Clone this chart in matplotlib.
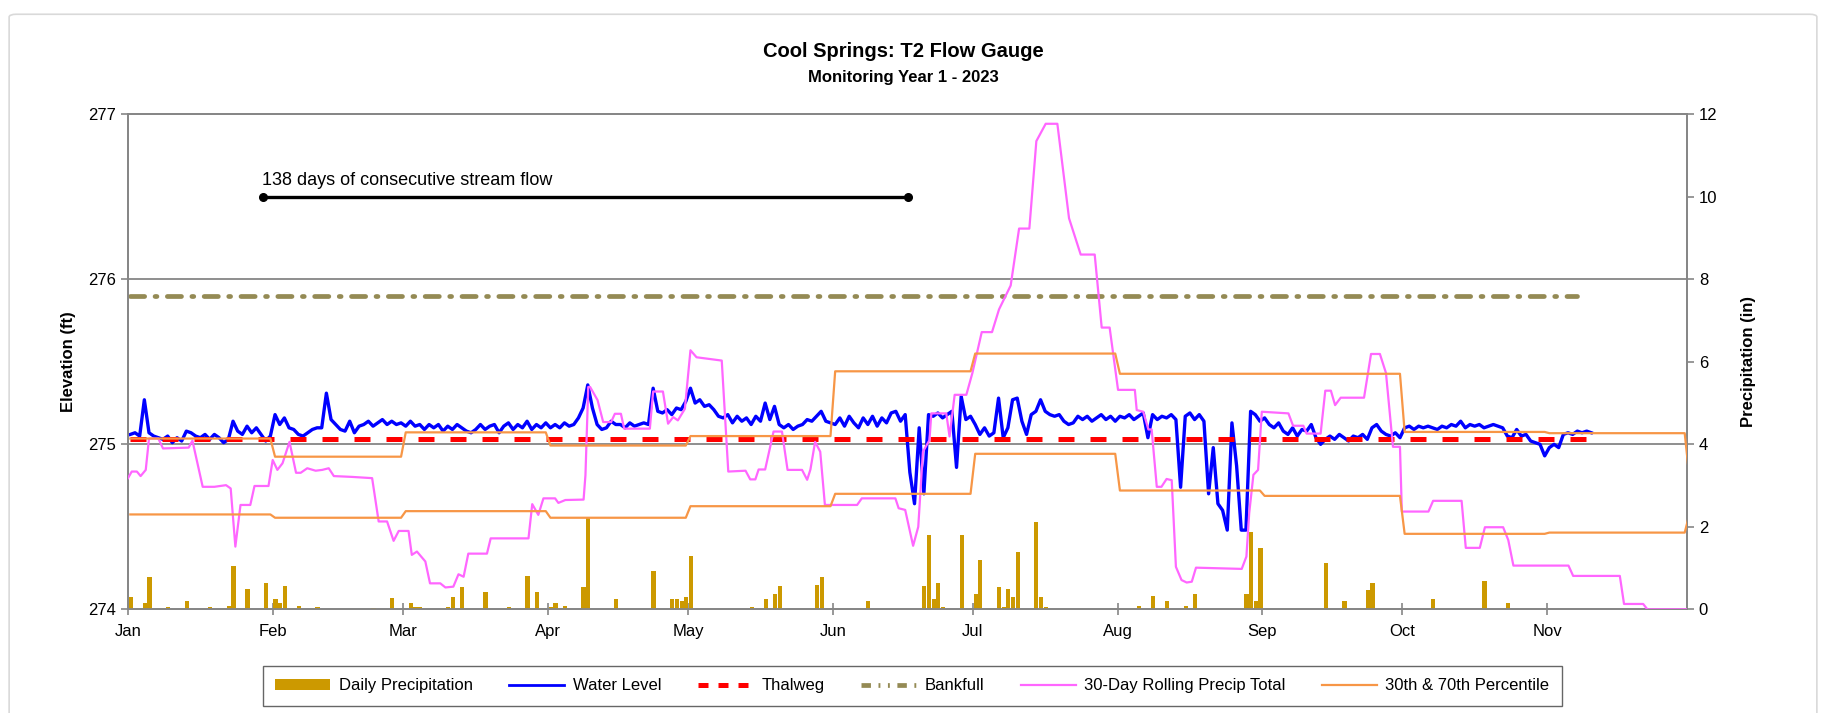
import matplotlib
matplotlib.use("Agg")
import matplotlib.pyplot as plt
import numpy as np
from matplotlib.lines import Line2D
from matplotlib.patches import Patch, FancyBboxPatch

plt.rcParams["font.family"] = ["Liberation Sans", "DejaVu Sans"]

# ---- data -------------------------------------------------------------
month_names = ["Jan", "Feb", "Mar", "Apr", "May", "Jun", "Jul", "Aug", "Sep", "Oct", "Nov"]
month_len = [31, 28, 31, 30, 31, 30, 31, 31, 30, 31, 30, 31]

# monthly 30th / 70th percentile of 30-day precip (in), Jan..Dec
pct70 = [4.14, 3.70, 4.29, 3.97, 4.20, 5.77, 6.20, 5.71, 5.71, 4.30, 4.27, 3.20]
pct30 = [2.30, 2.22, 2.38, 2.22, 2.50, 2.80, 3.77, 2.88, 2.75, 1.83, 1.86, 2.30]

# daily precipitation: day of year (0 = Jan 1) and inches
rain_day = [0, 3, 4, 8, 12, 13, 17, 21, 22, 25, 29, 31, 32, 33, 36, 40, 51, 52, 55, 56,
            60, 61, 62, 68, 69, 71, 76, 81, 85, 87, 90, 91, 93, 97, 98, 104, 106, 112,
            116, 117, 118, 119, 120, 129, 133, 136, 138, 139, 140, 147, 148, 149, 158,
            162, 163, 165, 170, 171, 172, 173, 174, 178, 181, 182, 186, 187, 188, 189,
            190, 194, 195, 196, 200, 203, 204, 209, 212, 216, 219, 222, 226, 227, 228,
            239, 240, 241, 242, 256, 260, 265, 266, 279, 280, 290, 295]
rain_in = [0.31, 0.15, 0.79, 0.06, 0.19, 0.02, 0.06, 0.07, 1.06, 0.50, 0.63, 0.24, 0.15,
           0.57, 0.09, 0.06, 0.02, 0.04, 0.02, 0.27, 0.15, 0.06, 0.06, 0.06, 0.31, 0.55,
           0.43, 0.05, 0.82, 0.43, 0.06, 0.15, 0.07, 0.55, 2.21, 0.24, 0.02, 0.94, 0.25,
           0.26, 0.19, 0.30, 1.30, 0.02, 0.05, 0.26, 0.38, 0.56, 0.02, 0.58, 0.78, 0.02,
           0.21, 0.02, 0.02, 0.02, 0.56, 1.79, 0.26, 0.65, 0.05, 1.81, 0.37, 1.19, 0.53,
           0.05, 0.49, 0.31, 1.40, 2.12, 0.31, 0.05, 0.02, 0.02, 0.02, 0.02, 0.02, 0.07,
           0.33, 0.19, 0.09, 0.02, 0.37, 0.37, 1.88, 0.19, 1.49, 1.13, 0.19, 0.47, 0.65,
           0.25, 0.02, 0.69, 0.16]

# 30-day rolling precip total: breakpoints (day of year, inches)
roll_day = [0.0, 0.8, 1.9, 2.7, 3.8, 4.5, 6.5, 7.5, 13.0, 13.8, 16.0, 18.5, 21.0, 22.0,
            23.0, 24.1, 26.2, 27.1, 30.1, 31.0, 32.0, 33.1, 34.6, 36.0, 37.0, 38.4, 40.2,
            41.6, 43.0, 44.1, 48.0, 52.3, 53.7, 55.5, 56.9, 58.0, 60.1, 60.8, 61.9, 63.7,
            64.7, 66.9, 68.0, 69.7, 70.8, 71.9, 72.9, 76.9, 77.7, 85.8, 86.6, 87.9, 89.0,
            91.5, 92.2, 93.7, 97.6, 98.0, 98.6, 99.0, 100.6, 101.8, 103.5, 104.3, 105.6,
            106.3, 111.8, 112.5, 114.6, 115.7, 116.8, 117.8, 119.3, 120.5, 121.8, 127.2,
            128.6, 132.3, 133.3, 134.4, 135.1, 136.5, 138.3, 140.1, 141.3, 144.4, 145.5,
            146.2, 147.2, 148.3, 149.3, 156.2, 157.2, 164.4, 165.1, 166.5, 168.2, 169.3,
            170.3, 171.7, 172.1, 175.3, 176.0, 177.1, 179.6, 180.9, 182.9, 185.1, 186.6,
            189.1, 190.9, 193.1, 194.6, 196.6, 199.1, 201.6, 204.1, 207.1, 208.6, 210.3,
            212.1, 215.7, 216.1, 217.5, 218.6, 219.3, 220.4, 221.4, 222.5, 223.6, 224.5,
            225.7, 226.8, 227.9, 228.8, 238.6, 239.6, 240.2, 241.1, 242.1, 242.9, 248.6,
            249.6, 251.8, 252.5, 255.5, 256.5, 257.7, 258.6, 259.8, 264.8, 266.3, 268.2,
            269.5, 271.0, 272.5, 272.9, 278.6, 279.6, 285.7, 286.6, 289.6, 290.7, 294.6,
            295.7, 296.8, 308.6, 309.6, 319.6, 320.5, 324.6, 325.5, 334.3]
roll_in = [3.18, 3.34, 3.34, 3.23, 3.38, 4.14, 4.14, 3.90, 3.92, 4.09, 2.97, 2.97, 3.01,
           2.93, 1.52, 2.53, 2.53, 2.99, 2.99, 3.62, 3.38, 3.54, 4.06, 3.31, 3.31, 3.42,
           3.36, 3.38, 3.42, 3.23, 3.21, 3.18, 2.13, 2.13, 1.66, 1.90, 1.90, 1.32, 1.40,
           1.16, 0.63, 0.63, 0.53, 0.55, 0.85, 0.79, 1.35, 1.35, 1.72, 1.72, 2.55, 2.29,
           2.69, 2.69, 2.58, 2.65, 2.66, 3.25, 5.39, 5.39, 5.07, 4.54, 4.54, 4.74, 4.74,
           4.38, 4.38, 5.28, 5.28, 4.50, 4.66, 4.58, 4.86, 6.28, 6.11, 6.03, 3.34, 3.36,
           3.15, 3.15, 3.39, 3.39, 4.31, 4.31, 3.38, 3.38, 3.14, 3.39, 4.06, 3.82, 2.53,
           2.53, 2.69, 2.69, 2.45, 2.41, 1.54, 2.00, 3.82, 4.10, 4.75, 4.75, 4.19, 5.20,
           5.20, 5.73, 6.72, 6.72, 7.27, 7.85, 9.23, 9.23, 11.35, 11.77, 11.77, 9.48,
           8.60, 8.60, 6.83, 6.83, 5.32, 5.32, 4.83, 4.79, 4.36, 4.36, 2.97, 2.97, 3.16,
           3.13, 1.03, 0.71, 0.65, 0.67, 1.01, 0.98, 1.28, 2.33, 3.26, 3.38, 4.79, 4.75,
           4.45, 4.45, 4.26, 4.26, 5.30, 5.30, 4.95, 5.13, 5.13, 6.19, 6.19, 5.73, 3.94,
           3.94, 2.37, 2.37, 2.63, 2.63, 1.49, 1.49, 1.99, 1.99, 1.68, 1.06, 1.06, 0.81,
           0.81, 0.13, 0.13, 0.00, 0.00]

# water level (ft), one reading per day from Jan 1
water_level = [
    275.06, 275.07, 275.05, 275.27, 275.07, 275.05, 275.04, 275.03, 275.05, 275.01,
    275.04, 275.02, 275.08, 275.07, 275.05, 275.04, 275.06, 275.03, 275.06, 275.04,
    275.01, 275.03, 275.14, 275.08, 275.06, 275.11, 275.07, 275.10, 275.06, 275.02,
    275.05, 275.18, 275.12, 275.16, 275.10, 275.09, 275.06, 275.05, 275.07, 275.09,
    275.10, 275.10, 275.31, 275.15, 275.12, 275.09, 275.08, 275.14, 275.07, 275.11,
    275.12, 275.14, 275.11, 275.13, 275.15, 275.12, 275.14, 275.12, 275.13, 275.11,
    275.14, 275.11, 275.12, 275.09, 275.12, 275.10, 275.12, 275.08, 275.11, 275.09,
    275.12, 275.10, 275.08, 275.07, 275.09, 275.12, 275.09, 275.11, 275.12, 275.07,
    275.11, 275.13, 275.09, 275.12, 275.10, 275.14, 275.09, 275.12, 275.10, 275.13,
    275.10, 275.12, 275.10, 275.13, 275.11, 275.12, 275.16, 275.22, 275.36, 275.22,
    275.12, 275.09, 275.10, 275.14, 275.12, 275.12, 275.10, 275.13, 275.11, 275.12,
    275.13, 275.12, 275.34, 275.20, 275.19, 275.21, 275.18, 275.22, 275.21, 275.26,
    275.34, 275.25, 275.27, 275.23, 275.24, 275.21, 275.17, 275.16, 275.18, 275.13,
    275.17, 275.14, 275.16, 275.12, 275.17, 275.14, 275.25, 275.15, 275.23, 275.12,
    275.10, 275.12, 275.09, 275.11, 275.12, 275.15, 275.14, 275.17, 275.20, 275.14,
    275.13, 275.12, 275.16, 275.11, 275.17, 275.13, 275.10, 275.16, 275.12, 275.17,
    275.11, 275.16, 275.13, 275.19, 275.20, 275.14, 275.18, 274.83, 274.64, 275.10,
    274.70, 275.18, 275.17, 275.19, 275.16, 275.18, 275.20, 274.86, 275.29, 275.15,
    275.17, 275.12, 275.06, 275.10, 275.05, 275.07, 275.28, 275.04, 275.10, 275.27,
    275.28, 275.14, 275.06, 275.18, 275.20, 275.27, 275.20, 275.18, 275.17, 275.18,
    275.14, 275.12, 275.13, 275.17, 275.15, 275.17, 275.14, 275.16, 275.18, 275.15,
    275.17, 275.14, 275.17, 275.16, 275.18, 275.15, 275.17, 275.19, 275.04, 275.18,
    275.15, 275.17, 275.16, 275.18, 275.15, 274.74, 275.17, 275.19, 275.15, 275.18,
    275.14, 274.70, 274.98, 274.64, 274.60, 274.48, 275.13, 274.87, 274.48, 274.48,
    275.20, 275.18, 275.14, 275.16, 275.12, 275.10, 275.13, 275.08, 275.06, 275.10,
    275.05, 275.09, 275.08, 275.12, 275.04, 275.00, 275.03, 275.05, 275.03, 275.06,
    275.04, 275.02, 275.05, 275.04, 275.06, 275.03, 275.10, 275.12, 275.08, 275.06,
    275.05, 275.07, 275.04, 275.10, 275.11, 275.09, 275.11, 275.10, 275.11, 275.10,
    275.09, 275.11, 275.10, 275.12, 275.11, 275.14, 275.10, 275.12, 275.11, 275.12,
    275.10, 275.11, 275.12, 275.11, 275.10, 275.05, 275.04, 275.09, 275.05, 275.06,
    275.02, 275.01, 275.00, 274.93, 274.98, 275.00, 274.98, 275.06, 275.07, 275.06,
    275.08, 275.07, 275.08, 275.07,
]

thalweg_elev = 275.03
bankfull_elev = 275.90
flow_start_day = 29
flow_days = 138
flow_label = "138 days of consecutive stream flow"

# ---- figure -----------------------------------------------------------
fig = plt.figure(figsize=(18.26, 7.13), dpi=100)

# light chart-area frame (runs off the bottom of the image)
fig.patches.append(FancyBboxPatch((0.005, -0.05), 0.990, 1.03, transform=fig.transFigure,
                                  boxstyle="round,pad=0,rounding_size=0.004",
                                  facecolor="none", edgecolor="#D9D9D9", lw=1.2))

ax = fig.add_axes([0.0701, 0.1454, 0.8538, 0.6943])
ax2 = ax.twinx()

grey = "#868686"
month_start = np.concatenate([[0], np.cumsum(month_len)])
end_day = month_start[11]  # Dec 1

# primary axis: elevations
wl_x = np.arange(len(water_level)) + 0.5
ax.plot(wl_x, water_level, color="#0000FF", lw=2.4, zorder=3)
ax.plot(wl_x, np.full(len(wl_x), thalweg_elev), color="#FF0000", lw=3.6,
        dashes=(3.2, 3.2), zorder=4)
bank_x = wl_x[:-3]
ax.plot(bank_x, np.full(len(bank_x), bankfull_elev), color="#948A54", lw=3.4,
        dashes=(3.0, 2.2, 0.4, 2.2), solid_capstyle="round", dash_capstyle="round", zorder=4)
ax.plot([flow_start_day, flow_start_day + flow_days], [276.5, 276.5], color="black",
        lw=2.4, marker="o", ms=5.5, zorder=5)
ax.text(flow_start_day - 0.3, 276.55, flow_label, fontsize=13, ha="left", va="bottom")

ax.set_ylim(274, 277)
ax.set_yticks([274, 275, 276, 277])
ax.set_xlim(0, end_day)
ax.set_xticks(month_start[:11])
ax.set_xticklabels(month_names)
for y in (275, 276):
    ax.axhline(y, color=grey, lw=1.3, zorder=1)
ax.set_ylabel("Elevation (ft)", fontsize=12, fontweight="bold", labelpad=9)

# secondary axis: precipitation
days = np.arange(end_day + 1)
p70_daily = np.repeat(pct70, month_len)[: end_day + 1]
p30_daily = np.repeat(pct30, month_len)[: end_day + 1]
ax2.bar(np.array(rain_day) + 0.6, rain_in, width=0.9, color="#CC9900", zorder=2)
ax2.plot(roll_day, roll_in, color="#FF66FF", lw=1.6, zorder=3)
ax2.plot(days + 0.5, p70_daily, color="#F79646", lw=1.6, zorder=3)
ax2.plot(days + 0.5, p30_daily, color="#F79646", lw=1.6, zorder=3)
ax2.set_ylim(0, 12)
ax2.set_yticks(range(0, 13, 2))
ax2.set_ylabel("Precipitation (in)", fontsize=12, fontweight="bold", labelpad=17)

for a in (ax, ax2):
    for side in ("left", "right", "top", "bottom"):
        a.spines[side].set_color(grey)
        a.spines[side].set_linewidth(1.3)
    a.tick_params(axis="y", colors=grey, labelcolor="black", labelsize=12, length=5, width=1.2)
ax.tick_params(axis="x", colors=grey, labelcolor="black", labelsize=12, direction="inout",
               length=9, width=1.2, pad=6)

fig.text(0.495, 0.928, "Cool Springs: T2 Flow Gauge", ha="center", va="center",
         fontsize=14.5, fontweight="bold")
fig.text(0.495, 0.892, "Monitoring Year 1 - 2023", ha="center", va="center",
         fontsize=12, fontweight="bold")

handles = [
    Patch(facecolor="#CC9900", label="Daily Precipitation"),
    Line2D([], [], color="#0000FF", lw=2, label="Water Level"),
    Line2D([], [], color="#FF0000", lw=3.6, dashes=(2.0, 2.0), label="Thalweg"),
    Line2D([], [], color="#948A54", lw=3.4, dashes=(2.0, 1.6, 0.4, 1.6, 0.4, 1.6), label="Bankfull"),
    Line2D([], [], color="#FF66FF", lw=1.6, label="30-Day Rolling Precip Total"),
    Line2D([], [], color="#F79646", lw=1.6, label="30th & 70th Percentile"),
]
leg = fig.legend(handles=handles, loc="center", bbox_to_anchor=(0.4997, 0.038), ncol=6,
                 fontsize=12, frameon=True, fancybox=False, handlelength=3.3,
                 handletextpad=0.5, columnspacing=2.2, borderpad=0.75)
leg.get_frame().set_edgecolor("#404040")
leg.get_frame().set_linewidth(1.0)

fig.savefig("out.png", dpi=100)
